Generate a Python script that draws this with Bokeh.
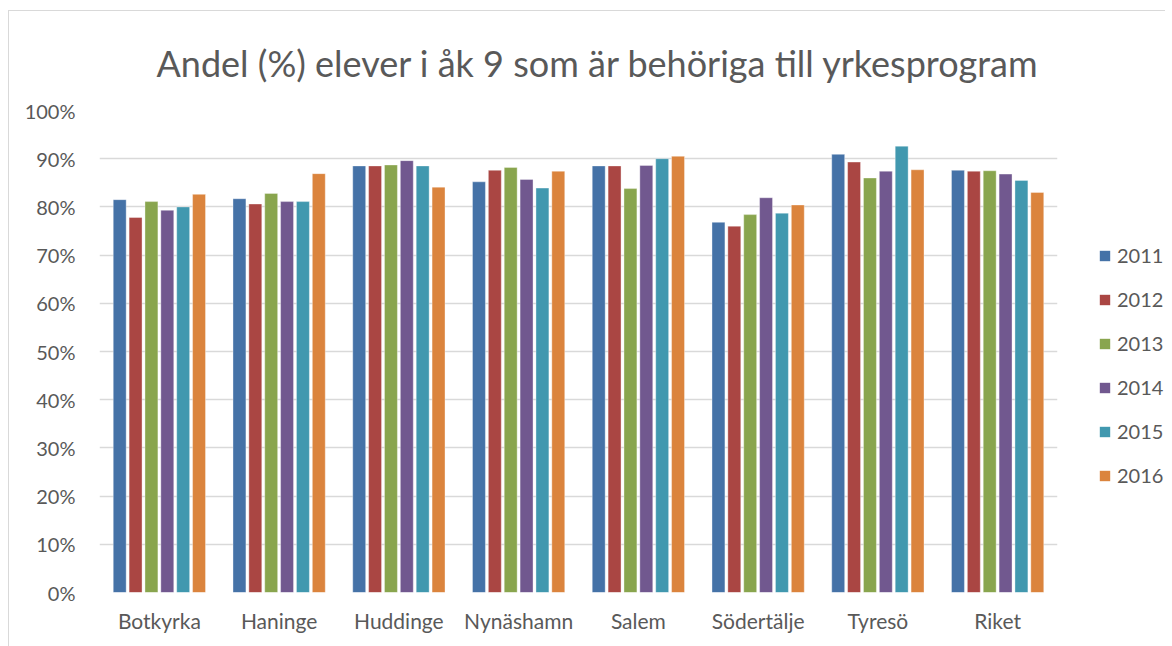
from bokeh.plotting import figure
from bokeh.layouts import row
from bokeh.models import (ColumnDataSource, FactorRange, Range1d, Legend, LegendItem,
                          FixedTicker, PrintfTickFormatter)
from bokeh.transform import dodge
from bokeh.embed import file_html
from bokeh.resources import INLINE

categories = ["Botkyrka", "Haninge", "Huddinge", "Nynäshamn", "Salem", "Södertälje", "Tyresö", "Riket"]
years = ["2011", "2012", "2013", "2014", "2015", "2016"]
v2011 = [81.5, 81.7, 88.5, 85.2, 88.5, 76.8, 90.9, 87.6]
v2012 = [77.8, 80.6, 88.5, 87.6, 88.5, 76.0, 89.3, 87.4]
v2013 = [81.1, 82.8, 88.7, 88.2, 83.8, 78.4, 86.0, 87.5]
v2014 = [79.3, 81.1, 89.6, 85.7, 88.6, 81.9, 87.4, 86.8]
v2015 = [80.0, 81.1, 88.5, 83.9, 90.0, 78.7, 92.6, 85.5]
v2016 = [82.6, 86.9, 84.1, 87.4, 90.5, 80.4, 87.7, 83.0]
series = [v2011, v2012, v2013, v2014, v2015, v2016]
colors = ["#4572A7", "#AA4643", "#89A54E", "#71588F", "#4198AF", "#DB843D"]
yticks = [0, 10, 20, 30, 40, 50, 60, 70, 80, 90, 100]

FONT = "Lato"
GREY = "#595959"

data = {"cat": categories}
for y, s in zip(years, series):
    data["y" + y] = s
src = ColumnDataSource(data)

p = figure(width=1066, height=635, x_range=FactorRange(factors=categories, range_padding=0),
           y_range=Range1d(0, 100), output_backend="svg", toolbar_location=None,
           title="Andel (%) elever i åk 9 som är behöriga till yrkesprogram",
           min_border_left=90, min_border_right=18, min_border_bottom=54, min_border_top=99)
p.title.text_font = FONT
p.title.text_font_size = "36px"
p.title.text_font_style = "normal"
p.title.text_color = GREY
p.title.align = "left"
p.title.offset = 57
p.title.standoff = 51

slot = 0.1325
renderers = []
for i, (y, c) in enumerate(zip(years, colors)):
    r = p.vbar(x=dodge("cat", (i - 2.5) * slot, range=p.x_range), top="y" + y, width=0.108,
               source=src, fill_color=c, line_color="white", line_width=0.6, line_alpha=0.6)
    renderers.append(r)

p.yaxis.ticker = FixedTicker(ticks=yticks)
p.yaxis.formatter = PrintfTickFormatter(format="%d%%")
for ax in (p.xaxis[0], p.yaxis[0]):
    ax.axis_line_color = None
    ax.major_tick_line_color = None
    ax.minor_tick_line_color = None
    ax.major_label_text_font = FONT
    ax.major_label_text_color = GREY
p.yaxis.major_label_text_font_size = "20px"
p.xaxis.major_label_text_font_size = "21px"
p.yaxis.major_label_standoff = 18
p.xaxis.major_label_standoff = 9
p.xgrid.grid_line_color = None
p.ygrid.grid_line_color = "#d9d9d9"
p.ygrid.grid_line_width = 1.3
p.outline_line_color = None

# legend panel (its swatch renderers read the same source but lie outside its view)
q = figure(width=90, height=635, x_range=Range1d(0, 1), y_range=Range1d(0, 1),
           output_backend="svg", toolbar_location=None,
           min_border_left=0, min_border_right=0, min_border_top=0, min_border_bottom=0)
q.axis.visible = False
q.grid.visible = False
q.outline_line_color = None
items = []
for y, c in zip(years, colors):
    dr = q.vbar(x="y" + y, top="y" + y, width=0.1, source=src, fill_color=c, line_color=None)
    items.append(LegendItem(label=y, renderers=[dr]))
legend = Legend(items=items, location=(23, 105), margin=0,
                label_text_font=FONT, label_text_font_size="20px",
                label_text_color=GREY, glyph_width=13, glyph_height=13,
                label_height=20, spacing=20, border_line_color=None, padding=8,
                label_standoff=6, background_fill_alpha=0)
q.add_layout(legend)

layout = row(p, q, styles={"margin-left": "8px", "margin-top": "10px",
                           "border-left": "1px solid #d9d9d9",
                           "border-top": "1px solid #d9d9d9"})

open("out.html", "w").write(file_html(layout, INLINE))
